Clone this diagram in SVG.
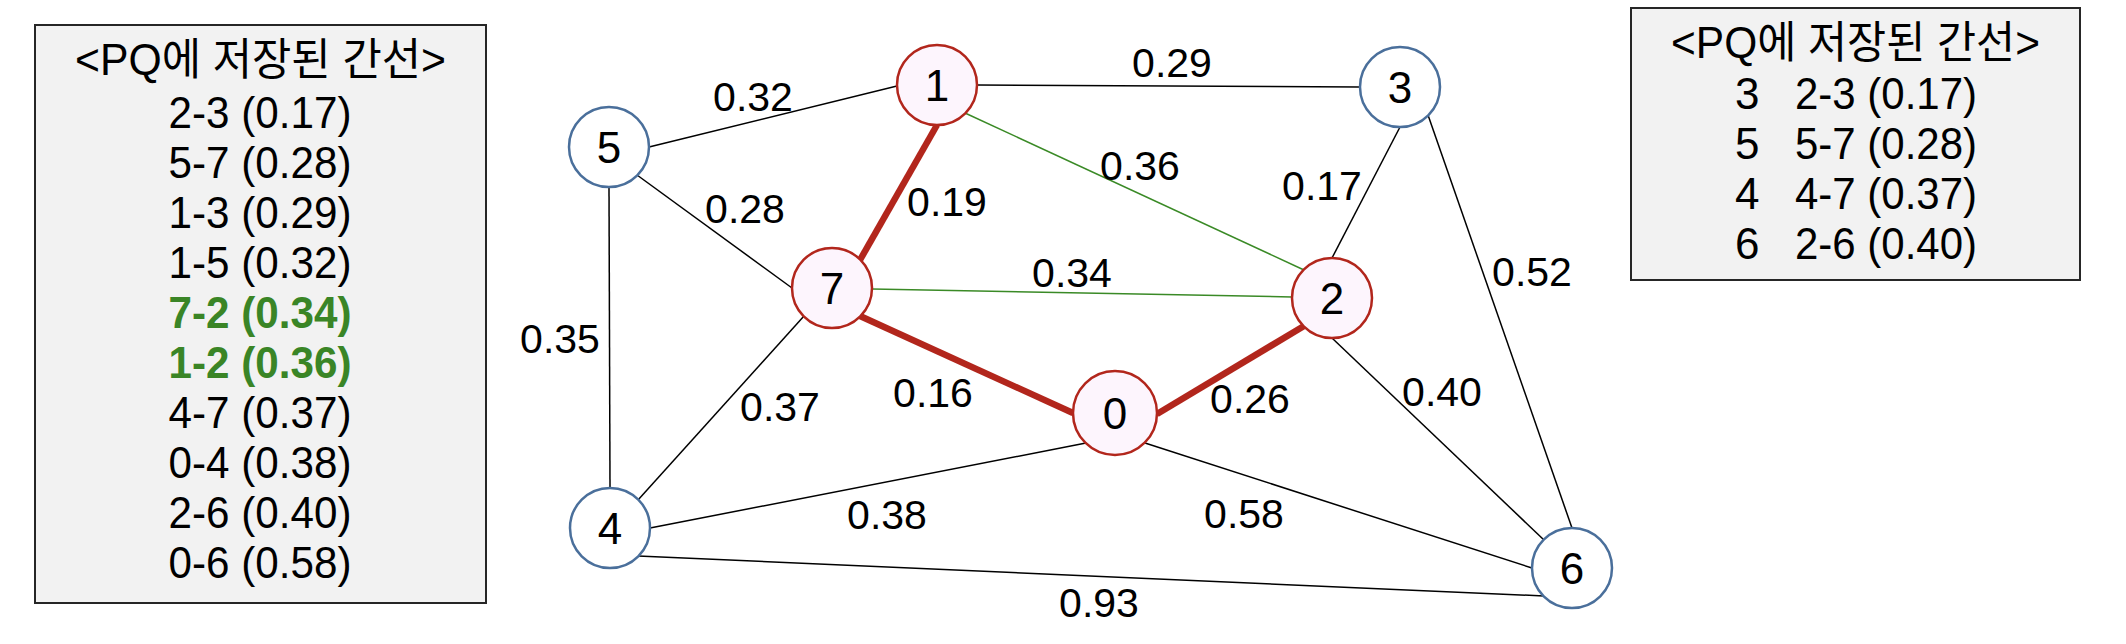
<svg xmlns="http://www.w3.org/2000/svg" width="2126" height="644" viewBox="0 0 2126 644">
<style>
.t{font-family:"Liberation Sans","Noto Sans CJK KR",sans-serif;fill:#000}
.box{fill:#F2F2F2;stroke:#262626;stroke-width:2}
.bt{font-size:44px;text-anchor:middle}
.rt{font-size:44px}
.g{fill:#3A8526;font-weight:bold}
.lbl{font-size:41px;text-anchor:middle}
.nl{font-size:44px;text-anchor:middle}
.e{stroke:#000;stroke-width:1.5;fill:none}
.eg{stroke:#3A8A26;stroke-width:1.5;fill:none}
.er{stroke:#B2261C;stroke-width:6.5;fill:none}
.nr{fill:#FDF5FD;stroke:#B2261C;stroke-width:2.5}
.nb{fill:#FFFFFF;stroke:#4A6F9B;stroke-width:2.5}
</style>
<rect width="2126" height="644" fill="#FFFFFF"/>
<g id="pq-left">
<rect class="box" x="35" y="25" width="451" height="578"/>
<text class="t bt" x="260.5" y="75" textLength="371" lengthAdjust="spacingAndGlyphs">&lt;PQ에 저장된 간선&gt;</text>
<text class="t bt" x="260" y="127.5" textLength="183" lengthAdjust="spacingAndGlyphs">2-3 (0.17)</text>
<text class="t bt" x="260" y="177.5" textLength="183" lengthAdjust="spacingAndGlyphs">5-7 (0.28)</text>
<text class="t bt" x="260" y="227.5" textLength="183" lengthAdjust="spacingAndGlyphs">1-3 (0.29)</text>
<text class="t bt" x="260" y="277.5" textLength="183" lengthAdjust="spacingAndGlyphs">1-5 (0.32)</text>
<text class="t bt g" x="260" y="327.5" textLength="183" lengthAdjust="spacingAndGlyphs">7-2 (0.34)</text>
<text class="t bt g" x="260" y="377.5" textLength="183" lengthAdjust="spacingAndGlyphs">1-2 (0.36)</text>
<text class="t bt" x="260" y="427.5" textLength="183" lengthAdjust="spacingAndGlyphs">4-7 (0.37)</text>
<text class="t bt" x="260" y="477.5" textLength="183" lengthAdjust="spacingAndGlyphs">0-4 (0.38)</text>
<text class="t bt" x="260" y="527.5" textLength="183" lengthAdjust="spacingAndGlyphs">2-6 (0.40)</text>
<text class="t bt" x="260" y="577.5" textLength="183" lengthAdjust="spacingAndGlyphs">0-6 (0.58)</text>
</g>
<g id="pq-right">
<rect class="box" x="1631" y="8" width="449" height="272"/>
<text class="t bt" x="1855.5" y="58" textLength="369" lengthAdjust="spacingAndGlyphs">&lt;PQ에 저장된 간선&gt;</text>
<text class="t rt" x="1735" y="109">3</text>
<text class="t rt" x="1795" y="109" textLength="182" lengthAdjust="spacingAndGlyphs">2-3 (0.17)</text>
<text class="t rt" x="1735" y="159">5</text>
<text class="t rt" x="1795" y="159" textLength="182" lengthAdjust="spacingAndGlyphs">5-7 (0.28)</text>
<text class="t rt" x="1735" y="209">4</text>
<text class="t rt" x="1795" y="209" textLength="182" lengthAdjust="spacingAndGlyphs">4-7 (0.37)</text>
<text class="t rt" x="1735" y="259">6</text>
<text class="t rt" x="1795" y="259" textLength="182" lengthAdjust="spacingAndGlyphs">2-6 (0.40)</text>
</g>
<g id="connectors">
<line class="e" x1="649" y1="147" x2="897" y2="86"/>
<line class="e" x1="977" y1="85" x2="1360" y2="87"/>
<line class="eg" x1="965" y1="113" x2="1304" y2="270"/>
<line class="er" x1="937" y1="125" x2="860" y2="260"/>
<line class="e" x1="637" y1="175" x2="792" y2="288"/>
<line class="e" x1="609" y1="187" x2="610" y2="488"/>
<line class="eg" x1="872" y1="289" x2="1292" y2="297"/>
<line class="er" x1="860" y1="316" x2="1073" y2="413"/>
<line class="e" x1="804" y1="316" x2="638" y2="500"/>
<line class="er" x1="1157" y1="414" x2="1304" y2="326"/>
<line class="e" x1="1332" y1="258" x2="1400" y2="127"/>
<line class="e" x1="1428" y1="115" x2="1572" y2="528"/>
<line class="e" x1="1332" y1="338" x2="1544" y2="540"/>
<line class="e" x1="1086" y1="443" x2="650" y2="528"/>
<line class="e" x1="1145" y1="443" x2="1532" y2="568"/>
<line class="e" x1="638" y1="556" x2="1544" y2="596"/>
<text class="t lbl" x="753" y="111">0.32</text>
<text class="t lbl" x="1172" y="77">0.29</text>
<text class="t lbl" x="1140" y="180">0.36</text>
<text class="t lbl" x="947" y="216">0.19</text>
<text class="t lbl" x="745" y="223">0.28</text>
<text class="t lbl" x="1072" y="287">0.34</text>
<text class="t lbl" x="1322" y="200">0.17</text>
<text class="t lbl" x="1532" y="286">0.52</text>
<text class="t lbl" x="560" y="353">0.35</text>
<text class="t lbl" x="780" y="421">0.37</text>
<text class="t lbl" x="933" y="407">0.16</text>
<text class="t lbl" x="1250" y="413">0.26</text>
<text class="t lbl" x="1442" y="406">0.40</text>
<text class="t lbl" x="887" y="529">0.38</text>
<text class="t lbl" x="1244" y="528">0.58</text>
<text class="t lbl" x="1099" y="617">0.93</text>
</g>
<g id="node-0"><circle class="nr" cx="1115" cy="413" r="42"/><text class="t nl" x="1115" y="429">0</text></g>
<g id="node-1"><circle class="nr" cx="937" cy="85" r="40"/><text class="t nl" x="937" y="101">1</text></g>
<g id="node-2"><circle class="nr" cx="1332" cy="298" r="40"/><text class="t nl" x="1332" y="314">2</text></g>
<g id="node-3"><circle class="nb" cx="1400" cy="87" r="40"/><text class="t nl" x="1400" y="103">3</text></g>
<g id="node-4"><circle class="nb" cx="610" cy="528" r="40"/><text class="t nl" x="610" y="544">4</text></g>
<g id="node-5"><circle class="nb" cx="609" cy="147" r="40"/><text class="t nl" x="609" y="163">5</text></g>
<g id="node-6"><circle class="nb" cx="1572" cy="568" r="40"/><text class="t nl" x="1572" y="584">6</text></g>
<g id="node-7"><circle class="nr" cx="832" cy="288" r="40"/><text class="t nl" x="832" y="304">7</text></g>
</svg>
